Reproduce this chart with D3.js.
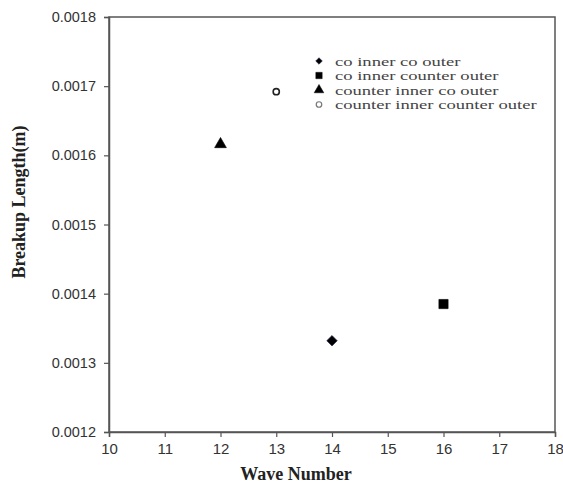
<!DOCTYPE html>
<html>
<head>
<meta charset="utf-8">
<script src="https://cdn.jsdelivr.net/npm/d3@7"></script>
<style>
  body { margin: 0; background: #fff; }
</style>
</head>
<body>
<div id="chart"></div>
<script>
// data
const seriesNames = ["co inner co outer", "co inner counter outer", "counter inner co outer", "counter inner counter outer"];
const waveNumbers = [14, 16, 12, 13];
const breakupLengths = [0.001332, 0.001385, 0.001616, 0.001692];
const xTicks = [10, 11, 12, 13, 14, 15, 16, 17, 18];
const yTicks = [0.0012, 0.0013, 0.0014, 0.0015, 0.0016, 0.0017, 0.0018];

const width = 563, height = 483;
const margin = { left: 109, right: 8, top: 17, bottom: 51 };

const svg = d3.select("#chart").append("svg")
    .attr("width", width)
    .attr("height", height);

const x = d3.scaleLinear().domain([10, 18]).range([margin.left, width - margin.right]);
const y = d3.scaleLinear().domain([0.0012, 0.0018]).range([height - margin.bottom, margin.top]);

// frame
svg.append("rect")
    .attr("x", x(10))
    .attr("y", y(0.0018))
    .attr("width", x(18) - x(10))
    .attr("height", y(0.0012) - y(0.0018))
    .attr("fill", "none")
    .attr("stroke", "#555")
    .attr("stroke-width", 1.5);

const xAxis = svg.append("g")
    .attr("transform", `translate(0,${y(0.0012)})`)
    .call(d3.axisBottom(x).tickValues(xTicks).tickSize(5).tickPadding(6).tickFormat(d3.format("d")));
xAxis.select(".domain").attr("stroke", "#555").attr("stroke-width", 1.5);
xAxis.selectAll(".tick line").attr("stroke", "#555").attr("stroke-width", 1.2);
xAxis.selectAll("text")
    .attr("font-family", "'Liberation Sans', Arial, sans-serif")
    .attr("font-size", "15px")
    .attr("fill", "#333");

const yAxis = svg.append("g")
    .attr("transform", `translate(${x(10)},0)`)
    .call(d3.axisLeft(y).tickValues(yTicks).tickSize(5).tickPadding(8).tickFormat(d3.format(".4f")));
yAxis.select(".domain").attr("stroke", "#555").attr("stroke-width", 1.5);
yAxis.selectAll(".tick line").attr("stroke", "#555").attr("stroke-width", 1.2);
yAxis.selectAll("text")
    .attr("font-family", "'Liberation Sans', Arial, sans-serif")
    .attr("font-size", "14.5px")
    .attr("fill", "#333");

// marker shapes per series
const shapes = [
    { type: d3.symbolDiamond2, size: 70, fill: "#000", stroke: "#22205a" },
    { type: d3.symbolSquare, size: 85, fill: "#000", stroke: "#000" },
    { type: d3.symbolTriangle, size: 60, fill: "#000", stroke: "#000" },
    { type: d3.symbolCircle, size: 30, fill: "#fff", stroke: "#222" }
];

svg.append("g").selectAll("path")
    .data(seriesNames)
    .enter()
    .append("path")
    .attr("transform", (d, i) => `translate(${x(waveNumbers[i])},${y(breakupLengths[i])})`)
    .attr("d", (d, i) => d3.symbol().type(shapes[i].type).size(shapes[i].size)())
    .attr("fill", (d, i) => shapes[i].fill)
    .attr("stroke", (d, i) => shapes[i].stroke)
    .attr("stroke-width", (d, i) => i === 3 ? 1.6 : 0.6);

// legend
const legendSize = [28, 40, 40, 24];
const legend = svg.append("g").attr("transform", "translate(319,61)");
const item = legend.selectAll("g")
    .data(seriesNames)
    .enter()
    .append("g")
    .attr("transform", (d, i) => `translate(0,${i * 14.5})`);

item.append("path")
    .attr("d", (d, i) => d3.symbol().type(shapes[i].type).size(legendSize[i])())
    .attr("fill", (d, i) => shapes[i].fill)
    .attr("stroke", (d, i) => i === 3 ? "#777" : shapes[i].stroke)
    .attr("stroke-width", (d, i) => i === 3 ? 1.2 : 0.5);

// the original legend text is stretched sideways
item.append("text")
    .attr("transform", "translate(16,4.5) scale(1.43,1)")
    .attr("font-family", "'Liberation Serif', 'Times New Roman', serif")
    .attr("font-size", "13px")
    .attr("fill", "#444")
    .text(d => d);

// axis titles
svg.append("text")
    .attr("x", 296)
    .attr("y", 480)
    .attr("text-anchor", "middle")
    .attr("font-family", "'Liberation Serif', 'Times New Roman', serif")
    .attr("font-weight", "bold")
    .attr("font-size", "18px")
    .attr("fill", "#222")
    .text("Wave Number");

svg.append("text")
    .attr("transform", "translate(25,202) rotate(-90)")
    .attr("text-anchor", "middle")
    .attr("font-family", "'Liberation Serif', 'Times New Roman', serif")
    .attr("font-weight", "bold")
    .attr("font-size", "18px")
    .attr("fill", "#222")
    .text("Breakup Length(m)");
</script>
</body>
</html>
